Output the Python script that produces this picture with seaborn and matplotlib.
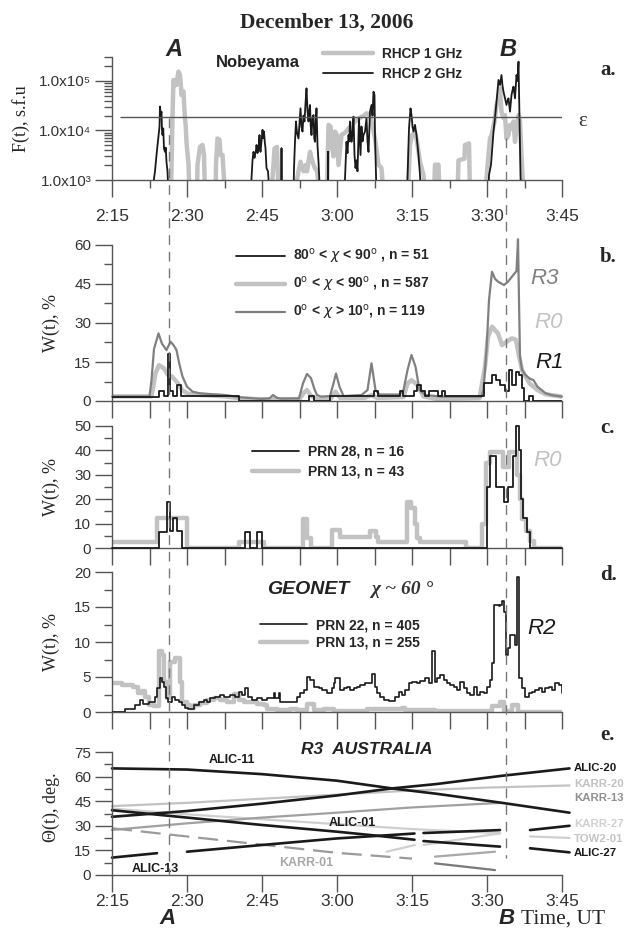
import numpy as np
import pandas as pd
import matplotlib
matplotlib.use("Agg")
import matplotlib.pyplot as plt
import matplotlib.ticker as mticker
from matplotlib.lines import Line2D
import seaborn as sns

# ---------------- data (time in minutes of the day, 135 = 2:15 UT) ----------------
# panel a: Nobeyama flux, s.f.u (500 = below the axis, gap between bursts)
t_1ghz = [135, 146.8, 146.9, 147.1, 147.3, 147.5, 147.7, 147.9, 148.1, 148.3, 148.5, 148.6, 148.75, 148.9,
          149.1, 149.3, 149.45, 149.6, 149.75, 149.9, 150.1, 150.3, 150.5,
          152.0, 152.1, 152.6, 153.1, 153.4, 153.6,
          155.7, 155.8, 156.1, 156.5, 156.7, 157.1, 157.6,
          167.0, 167.1, 167.5, 168.0, 168.3,
          171.9, 172.0, 172.3, 172.7, 173.0, 173.3, 173.7, 174.0, 174.6, 175.0, 175.5, 176.0, 176.6,
          178.0, 178.1, 178.3, 178.7, 179.0, 179.3, 179.6, 180.0, 180.3, 180.9, 181.6, 182.3, 183.0, 183.6,
          184.3, 184.9, 185.4, 185.9, 186.6, 187.1, 187.6, 188.3, 188.9, 189.3,
          194.2, 194.3, 194.6, 195.0, 195.6, 196.0, 196.6, 197.3, 197.6,
          199.4, 199.6, 200.3, 200.5,
          204.1, 204.3, 205.5, 205.6, 206.4, 206.6,
          209.8, 209.9, 210.3, 210.6, 210.9, 211.5, 211.9, 212.3, 212.6, 212.9, 213.3, 213.6, 213.9, 214.3,
          214.6, 214.9, 215.3, 215.6, 215.9, 216.3, 216.6, 216.9, 217.3, 225]
f_1ghz = [500, 500, 1700, 20000, 105000, 80000, 100000, 83000, 120000, 155000, 140000, 132000, 90000, 52000,
          60000, 62000, 30000, 17800, 12000, 5900, 3500, 2040, 500,
          500, 2040, 4660, 5100, 3200, 500,
          500, 2040, 6900, 6500, 3200, 3200, 500,
          500, 1080, 4340, 4660, 500,
          500, 1000, 1500, 2340, 1800, 1500, 2000, 1500, 3700, 2500, 1800, 1500, 500,
          500, 1740, 13000, 12000, 5000, 3000, 9500, 8000, 2000, 8100, 9000, 11000, 13000, 15200,
          17000, 19000, 20000, 22300, 20500, 12000, 6900, 2040, 1740, 500,
          500, 1000, 5000, 8000, 9500, 6000, 2340, 1260, 500,
          500, 2040, 2040, 500,
          500, 2500, 2700, 5100, 5500, 500,
          500, 1080, 3200, 6900, 8100, 15200, 32800, 44600, 71000, 24000, 17800, 20500, 6900, 8100,
          13000, 11000, 15200, 5900, 11000, 20500, 15200, 3200, 500, 500]

t_2ghz = [135, 143.2, 143.3, 143.6, 143.9, 144.1, 144.3, 144.5, 144.6, 144.75, 144.9, 145.0, 145.1, 145.25,
          145.4, 145.6, 145.75, 145.9, 146.1, 146.3,
          162.8, 162.9, 163.1, 163.3, 163.5, 163.6, 163.8, 163.9, 164.1, 164.3, 164.5, 164.6, 164.7, 164.9,
          165.1, 165.25, 165.4, 165.55, 165.7, 165.9, 166.2, 166.5,
          168.9, 168.9, 168.9, 168.9,
          171.3, 171.4, 171.6, 171.8, 172.0, 172.3, 172.5, 172.7, 172.9, 173.1, 173.3, 173.5, 173.7, 173.9,
          174.1, 174.3, 174.45, 174.6, 174.75, 174.9, 175.1, 175.3, 175.45, 175.6, 175.75, 175.9, 176.1,
          176.3, 176.6,
          178.2, 178.2, 178.2, 178.2,
          181.5, 181.6, 181.9, 182.1, 182.3, 182.45, 182.6, 182.9, 183.1, 183.3, 183.5, 183.7, 183.9, 184.1,
          184.4, 184.7, 184.9, 185.1, 185.3, 185.6, 185.9, 186.1, 186.3, 186.6, 186.9, 187.1, 187.3, 187.5,
          187.6, 187.8, 187.9,
          194.0, 194.1, 194.4, 194.7, 194.9, 195.1, 195.3, 195.6, 195.9, 196.1, 196.3, 196.6, 196.8,
          210.3, 210.4, 210.8, 211.3, 211.6, 211.9, 212.1, 212.3, 212.6, 212.9, 213.1, 213.3, 213.6, 213.9,
          214.1, 214.3, 214.6, 214.9, 215.1, 215.3, 215.6, 215.9, 216.1, 216.3, 216.5, 216.7, 216.8, 225]
f_2ghz = [500, 500, 900, 1500, 3200, 5000, 8100, 12000, 30500, 20000, 24000, 10000, 8100, 11000,
          4300, 3700, 4500, 2300, 1500, 500,
          500, 1080, 2500, 3700, 2800, 3200, 4000, 5100, 3500, 4340, 8100, 4500, 3700, 6000,
          10300, 7000, 9500, 6000, 4340, 1740, 1500, 500,
          500, 1740, 4340, 500,
          500, 1740, 6000, 15200, 9000, 6900, 14000, 28000, 12000, 9500, 20000, 15200, 35000, 71000,
          25000, 15200, 25000, 32800, 12000, 8100, 18000, 20500, 7000, 5900, 15000, 28000, 5000,
          2340, 500,
          500, 1740, 3700, 500,
          500, 1080, 5900, 3500, 8100, 6000, 15200, 5900, 9000, 19000, 3200, 1740, 2500, 1500,
          17800, 3200, 12000, 6000, 8100, 9500, 17800, 6000, 3700, 24000, 32800, 20000, 60700, 52000,
          8100, 1260, 500,
          500, 1080, 11000, 28000, 20500, 12000, 9500, 13000, 8100, 5000, 3200, 1260, 500,
          500, 1260, 2040, 9500, 17800, 38000, 60000, 105000, 83000, 132000, 80000, 60700, 44600, 32800,
          40000, 44600, 24000, 52000, 65000, 77000, 44600, 132000, 100000, 245000, 17800, 1260, 500, 500]
eps_level = 19000

# panel b: W(t), %
t_r3 = [135, 142.5, 142.9, 143.4, 144.3, 145.0, 145.9, 146.7, 147.3, 147.9, 148.5, 149.1, 150.0, 151.1,
        152.5, 154.4, 157.6, 160.8, 164.8, 166.5, 167.2, 168.0, 168.8, 172.4, 173.2, 174.0, 174.8, 175.5,
        176.0, 176.8, 178.6, 179.3, 179.8, 180.5, 181.3, 184.9, 186.1, 186.9, 187.7, 188.5, 192.5, 193.3,
        194.1, 194.9, 195.7, 196.5, 197.7, 200.9, 208.9, 209.3, 209.9, 210.4, 211.0, 211.6, 212.2, 213.4,
        214.2, 215.4, 215.9, 216.2, 216.4, 216.6, 217.0, 217.7, 218.5, 219.3, 220.1, 221.7, 223.0, 225]
w_r3 = [1.7, 1.7, 8, 20, 26, 22, 19.6, 22.8, 21.5, 19.6, 14, 9.4, 5.5, 3.6,
        3, 2.7, 2.3, 1.4, 0.8, 1, 2.3, 1.2, 0.9, 1, 6.8, 10.4, 8.8, 4.5,
        2.3, 1.7, 1.9, 6.8, 10.6, 5.5, 1.9, 2.3, 4.2, 14.5, 4.2, 2.5, 2.5, 4.2,
        11.9, 17.7, 13.2, 4.2, 2.3, 1.7, 1.7, 4.2, 19.6, 38.8, 49.7, 47, 45.9, 44.6,
        45.9, 48.8, 50, 62.2, 38.6, 17, 12, 10, 8.7, 8, 5.5, 3, 2.2, 1.7]

t_r0 = [135, 142.9, 143.7, 144.4, 145.4, 146.2, 147.0, 148.2, 149.0, 150.3, 152.8, 157.6, 160.8, 164.0,
        172.5, 173.3, 174.0, 174.8, 176.0, 178.8, 179.7, 180.6, 185.5, 186.9, 188.0, 193.3, 194.1, 194.9,
        196.1, 197.3, 200.0, 208.5, 209.6, 210.2, 211.0, 212.2, 213.0, 213.9, 215.0, 215.8, 216.3, 217.0,
        217.7, 218.5, 220.1, 221.7, 225]
w_r0 = [1.8, 1.8, 10.6, 13.8, 12.5, 10, 9.4, 6.8, 4.2, 2.7, 2.3, 1.8, 1, 0.7,
        0.7, 3, 4.2, 2, 0.8, 1, 3.6, 1.2, 1.2, 2.3, 1.2, 1.5, 6.8, 8,
        6.2, 1.7, 0.8, 1.1, 13.2, 24.7, 28.6, 26, 21.5, 22.8, 24.1, 23.5, 18.3, 11.9,
        9.4, 6.8, 4.2, 2.6, 1.7]

t_r1 = [135, 144.4, 145.4, 146.1, 146.6, 147.1, 147.9, 148.7, 160.4, 174.4, 175.3, 178.5, 187.3, 188.1,
        192.5, 193.1, 195.3, 195.9, 196.8, 197.6, 198.4, 200.2, 201.0, 201.5, 209.4, 211.0, 211.8, 212.6,
        213.6, 214.3, 214.9, 215.7, 216.3, 216.9, 217.4, 218.4, 219.1, 225]
w_r1 = [1.5, 4, 2, 18, 4, 2, 6, 2, 0, 2, 0, 2, 4, 2,
        4, 2, 4, 6, 4, 2, 4, 2, 4, 2, 7, 10, 8, 6,
        4, 12, 6, 11, 10, 5, 0, 2, 0, 0]

# panel c: W(t), %
t_c13 = [135, 143.9, 150.0, 160.4, 165.3, 173.2, 174.0, 174.8, 178.9, 180.5, 186.5, 187.7, 188.2, 194.0,
         194.7, 195.6, 196.0, 196.5, 205.8, 209.0, 209.8, 210.6, 213.2, 214.4, 215.9, 216.5, 217.0, 217.7,
         218.6, 219.3, 225]
w_c13 = [2.6, 12.2, 0, 2.6, 0, 12, 4, 0, 7.4, 4.5, 7, 4.5, 2.6, 19,
         16.5, 10, 4, 2.6, 0, 10, 35, 39.5, 33, 39.5, 30, 20, 12, 7,
         3, 0, 0]
t_c28 = [135, 144.4, 146.0, 146.5, 147.1, 147.9, 148.9, 161.6, 162.6, 164.0, 165.0, 209.9, 210.5, 211.8,
         213.4, 214.2, 215.2, 215.8, 216.3, 216.7, 217.2, 217.9, 218.6, 225]
w_c28 = [0, 6.4, 18.9, 7, 12.5, 7, 0, 6.4, 0, 6.4, 0, 25, 37.8, 25,
         19, 25, 37.8, 50, 40, 20, 12.5, 6.4, 0, 0]

# panel d: GEONET W(t), %
t_d22 = [135, 137.6, 139.6, 140.6, 141.1, 142.3, 143.6, 143.9, 144.5, 144.9, 145.3, 145.8, 146.1, 146.9,
         147.6, 148.3, 148.9, 149.6, 150.2, 151.3, 152.3, 153.3, 153.9, 154.6, 155.6, 156.6, 157.3, 158.6,
         159.6, 160.3, 160.9, 161.6, 162.1, 162.9, 163.9, 164.9, 165.9, 167.3, 167.6, 168.3, 168.6, 169.9,
         171.3, 171.9, 172.6, 173.3, 173.9, 174.6, 175.3, 176.3, 176.9, 177.9, 178.9, 179.3, 179.6, 180.6,
         181.3, 181.9, 182.6, 183.3, 183.9, 184.6, 185.6, 186.9, 187.6, 187.9, 188.6, 189.3, 190.3, 191.6,
         192.3, 192.9, 193.6, 194.3, 194.9, 195.9, 196.6, 197.6, 198.3, 198.9, 199.5, 199.9, 200.6, 201.3,
         201.9, 202.6, 203.3, 203.9, 204.6, 205.3, 205.9, 206.6, 207.3, 207.9, 208.6, 209.3, 209.9, 210.6,
         210.9, 211.3, 212.3, 212.6, 212.9, 213.4, 213.7, 214.1, 214.6, 215.0, 215.5, 215.9, 216.4, 216.9,
         217.6, 218.3, 218.9, 219.6, 220.3, 220.9, 221.6, 222.3, 222.9, 223.6, 224.3, 224.9, 225]
w_d22 = [0, 0.4, 1.0, 1.7, 1.2, 1.5, 2.2, 3.5, 4.8, 4.3, 3.6, 2.0, 1.5, 2.2,
         1.7, 1.5, 1.0, 0.6, 0.4, 1.0, 1.5, 1.7, 1.5, 2.0, 2.2, 2.4, 2.2, 2.5,
         2.2, 2.8, 2.4, 3.4, 2.2, 1.7, 2.0, 1.7, 2.0, 2.7, 2.0, 2.7, 1.5, 1.5,
         1.5, 2.2, 2.7, 3.1, 5.0, 4.6, 3.6, 3.4, 3.1, 2.7, 3.4, 4.1, 4.8, 3.1,
         3.4, 3.6, 3.1, 3.4, 3.6, 3.8, 4.1, 5.5, 3.6, 2.7, 2.2, 1.7, 1.6, 2.2,
         2.9, 2.4, 3.1, 4.1, 4.3, 4.1, 4.4, 4.8, 4.1, 8.7, 4.3, 4.8, 5.3, 4.6,
         4.1, 3.8, 3.6, 3.1, 4.3, 3.4, 2.7, 2.4, 3.6, 2.4, 2.9, 2.7, 3.6, 4.6,
         7.0, 15.3, 15.1, 15.3, 15.8, 14.3, 8.1, 9.1, 11.0, 11.0, 9.6, 19.3, 4.8, 3.4,
         2.2, 2.7, 2.9, 3.1, 3.4, 2.9, 3.4, 3.6, 3.1, 4.1, 3.8, 2.7, 2.7]
t_d13 = [135, 136.9, 139.2, 140.2, 140.9, 141.6, 142.3, 143.3, 144.3, 144.9, 145.4, 145.9, 146.6, 147.6,
         148.6, 149.0, 149.9, 150.6, 151.3, 152.6, 153.9, 155.3, 156.6, 157.9, 159.3, 160.3, 161.3, 163.9,
         165.3, 165.9, 167.9, 170.6, 171.9, 173.9, 175.3, 177.3, 179.3, 186.0, 192.9, 193.6, 199.6, 210.9,
         212.6, 213.3, 214.9, 216.2, 225]
w_d13 = [4.2, 3.9, 3.6, 2.7, 3.0, 2.2, 1.0, 0.8, 8.7, 8.1, 4.3, 2.0, 7.2, 7.7,
         4.3, 1.5, 1.0, 0.6, 1.0, 1.3, 1.7, 2.0, 1.7, 1.5, 2.6, 1.7, 1.5, 1.2,
         1.0, 0.5, 0.3, 0.4, 0.3, 1.1, 0.3, 0.5, 0.2, 0.4, 0.6, 0.3, 0.2, 0.8,
         1.4, 0.2, 1.0, 0.0, 0.0]

# panel e: elevation of the satellites, deg (nan = gap in the record)
t_alic11 = [135, 150, 165, 180, 191, 200, 213, 226.5]
e_alic11 = [65, 64.3, 61.5, 57.5, 52.8, 49.5, 44, 38]
t_alic20 = [135, 150, 165, 180, 191, 200, 213, 226.5]
e_alic20 = [35.5, 39, 43.5, 48.5, 52.8, 55.5, 60.5, 65]
t_karr20 = [135, 150, 165, 180, 195, 210, 226.5]
e_karr20 = [42, 44, 46.5, 49, 51.5, 53.3, 54.6]
t_karr13 = [135, 150, 165, 180, 195, 213, 216, 226.5]
e_karr13 = [27.5, 31.5, 35, 38, 41.2, 44, np.nan, 45.6]
t_karr27 = [135, 150, 165, 180, 195, 212.6, 215.6, 218.6, 226.5]
e_karr27 = [40.5, 37, 34, 31, 28, 25.5, np.nan, 23.5, 22.6]
t_alic01 = [135, 144, 147, 150, 165, 180, 195.5, 196.4, 197.3, 212.6, 215.6, 218.6, 226.5]
e_alic01 = [10.6, 13.3, np.nan, 14.2, 18.3, 22.3, 25.3, np.nan, 25.6, 27.4, np.nan, 27.4, 30]
t_alic27 = [135, 150, 165, 180, 186.6, 195.5, 196.4, 197.3, 212.6, 215.6, 218.6, 226.5]
e_alic27 = [39.5, 35, 30.5, 26.4, 24.4, 21.5, np.nan, 20.7, 17.3, np.nan, 16.3, 13.8]
t_tow201 = [189.9, 195.6, 196.4, 197.3, 212.6]
e_tow201 = [14.2, 18.3, np.nan, 18.3, 25.4]
t_karr01 = [135, 150, 165, 180, 195]
e_karr01 = [28.5, 23.5, 18.5, 13.5, 10]
t_seg_a = [199.6, 211.6]
e_seg_a = [11.2, 14.2]
t_seg_b = [199.6, 211.6]
e_seg_b = [7.1, 3.0]

t_A, t_B = 146.3, 213.7

# ---------------- style ----------------
sns.set_style("ticks")
plt.rcParams['font.family'] = ['Liberation Sans', 'DejaVu Sans']
SERIF = ['Liberation Serif', 'DejaVu Serif']
NARROW = ['Liberation Sans Narrow', 'Liberation Sans', 'DejaVu Sans']
AX = '#555555'
LIGHT = '#c2c2c2'
MID = '#808080'
DARK = '#1a1a1a'

W, H = 629, 931
fig = plt.figure(figsize=(W / 100, H / 100), dpi=100)


def box(top, bottom):
    return [112 / W, 1 - bottom / H, 450 / W, (bottom - top) / H]


def hm(x, pos):
    x = int(round(x))
    return f"{x // 60}:{x % 60:02d}"


def draw(ax, t, v, **kw):
    # split on nan so gaps stay gaps, then hand every piece to seaborn
    df = pd.DataFrame({'t': t, 'v': v})
    gid = df['v'].isna().cumsum()
    ok = df['v'].notna()
    for _, seg in df[ok].groupby(gid[ok]):
        sns.lineplot(data=seg, x='t', y='v', ax=ax, estimator=None, sort=False, **kw)
        kw.pop('label', None)


def style_axis(ax, ymajor, yminor, xlabels, xpad=4):
    ax.set_xlim(135, 225)
    for s in ['top', 'right']:
        ax.spines[s].set_visible(False)
    for s in ['left', 'bottom']:
        ax.spines[s].set_color(AX)
        ax.spines[s].set_linewidth(1.0)
    ax.set_xlabel('')
    ax.set_ylabel('')
    if ymajor is not None:
        ax.yaxis.set_major_locator(mticker.MultipleLocator(ymajor))
        ax.yaxis.set_minor_locator(mticker.MultipleLocator(yminor))
    ax.tick_params(axis='y', which='major', length=12, width=1, color=AX, labelsize=11,
                   labelcolor='#333333', pad=3)
    ax.tick_params(axis='y', which='minor', length=6, width=1, color=AX)
    for lab in ax.get_yticklabels():
        lab.set_fontfamily(NARROW)
    if xlabels:
        ax.xaxis.set_major_locator(mticker.MultipleLocator(15))
        ax.xaxis.set_major_formatter(mticker.FuncFormatter(hm))
        ax.tick_params(axis='x', which='major', length=12, width=1, color=AX, labelsize=12.5,
                       labelcolor='#333333', pad=xpad)
    else:
        ax.xaxis.set_major_locator(mticker.MultipleLocator(7.5))
        ax.xaxis.set_major_formatter(mticker.NullFormatter())
        ax.tick_params(axis='x', which='major', length=12, width=1, color=AX)


def legend(ax, x, y, fs, hl, sp, handles=None):
    kw = dict(loc='upper left', bbox_to_anchor=(x / W, 1 - y / H), bbox_transform=fig.transFigure,
              frameon=False, borderpad=0, borderaxespad=0, handlelength=hl, handletextpad=0.6,
              labelspacing=sp, prop={'size': fs, 'weight': 'bold'})
    if handles is not None:
        kw['handles'] = handles
    ax.legend(**kw)


# ---------------- panel a ----------------
ax_a = fig.add_axes(box(57, 180))
draw(ax_a, t_1ghz, f_1ghz, color=LIGHT, lw=3.2, label='RHCP 1 GHz', zorder=2)
draw(ax_a, t_2ghz, f_2ghz, color=DARK, lw=1.3, label='RHCP 2 GHz', zorder=3)
ax_a.hlines(eps_level, 136.5, 225, color=AX, lw=1.0, zorder=4)
ax_a.set_yscale('log')
ax_a.set_ylim(1e3, 3.05e5)
style_axis(ax_a, None, None, True, xpad=9)
ax_a.xaxis.set_minor_locator(mticker.MultipleLocator(7.5))
ax_a.tick_params(axis='x', which='minor', length=6, width=1, color=AX)
ax_a.set_yticks([1e3, 1e4, 1e5])
ax_a.set_yticklabels(['1.0x10³', '1.0x10⁴', '1.0x10⁵'], fontfamily=NARROW)
ax_a.yaxis.set_minor_locator(mticker.LogLocator(subs=range(2, 10)))
ax_a.yaxis.set_minor_formatter(mticker.NullFormatter())
ax_a.set_ylabel('F(t), s.f.u', fontfamily=SERIF, fontsize=13)
ax_a.yaxis.set_label_coords(-0.182, 0.5)
legend(ax_a, 323, 47, 9.8, 3.7, 0.45)
ax_a.text(258 / W, 1 - 62 / H, 'Nobeyama', transform=fig.transFigure, ha='center', va='center',
          fontsize=12, fontweight='bold', color='#222222')
ax_a.text(578 / W, 1 - 122 / H, 'ε', transform=fig.transFigure, ha='left', va='center',
          fontsize=15, fontfamily=SERIF, color='#333333')

# ---------------- panel b ----------------
ax_b = fig.add_axes(box(245, 401))
draw(ax_b, t_r0, w_r0, color=LIGHT, lw=3.2, label='0$^{\\rm o}$ < $\\chi$ < 90$^{\\rm o}$ , n = 587', zorder=2)
draw(ax_b, t_r3, w_r3, color=MID, lw=1.6, label='0$^{\\rm o}$ < $\\chi$ > 10$^{\\rm o}$, n = 119', zorder=3,
     clip_on=False)
draw(ax_b, t_r1, w_r1, color=DARK, lw=1.3, label='80$^{\\rm o}$ < $\\chi$ < 90$^{\\rm o}$ , n = 51', zorder=4,
     drawstyle='steps-post')
ax_b.set_ylim(0, 60)
style_axis(ax_b, 15, 7.5, False)
ax_b.set_ylabel('W(t), %', fontfamily=SERIF, fontsize=13)
ax_b.yaxis.set_label_coords(-0.116, 0.5)
hb = ax_b.get_legend_handles_labels()[0]
legend(ax_b, 236, 247, 10, 3.5, 0.65, handles=[hb[2], hb[0], hb[1]])
ax_b.text(218.6, 47, 'R3', fontsize=16, fontstyle='italic', color=MID, ha='left', va='center')
ax_b.text(219.4, 30, 'R0', fontsize=16, fontstyle='italic', color=LIGHT, ha='left', va='center')
ax_b.text(219.6, 15, 'R1', fontsize=16, fontstyle='italic', color=DARK, ha='left', va='center')

# ---------------- panel c ----------------
ax_c = fig.add_axes(box(426, 548))
draw(ax_c, t_c28, w_c28, color=DARK, lw=1.3, label='PRN 28, n = 16', zorder=4, drawstyle='steps-post',
     clip_on=False)
draw(ax_c, t_c13, w_c13, color=LIGHT, lw=3.2, label='PRN 13, n = 43', zorder=2, drawstyle='steps-post')
ax_c.set_ylim(0, 50)
style_axis(ax_c, 10, 5, False)
ax_c.set_ylabel('W(t), %', fontfamily=SERIF, fontsize=13)
ax_c.yaxis.set_label_coords(-0.116, 0.5)
legend(ax_c, 252, 445, 10, 3.4, 0.4)
ax_c.text(219.2, 36, 'R0', fontsize=16, fontstyle='italic', color=LIGHT, ha='left', va='center')

# ---------------- panel d ----------------
ax_d = fig.add_axes(box(572, 712))
draw(ax_d, t_d22, w_d22, color=DARK, lw=1.2, label='PRN 22, n = 405', zorder=4, drawstyle='steps-post')
draw(ax_d, t_d13, w_d13, color=LIGHT, lw=3.2, label='PRN 13, n = 255', zorder=2, drawstyle='steps-post')
ax_d.set_ylim(0, 20)
style_axis(ax_d, 5, 2.5, False)
ax_d.set_ylabel('W(t), %', fontfamily=SERIF, fontsize=13)
ax_d.yaxis.set_label_coords(-0.116, 0.5)
legend(ax_d, 260, 618, 10, 3.4, 0.25)
ax_d.text(267 / W, 1 - 590 / H, 'GEONET', transform=fig.transFigure, ha='left', va='center',
          fontsize=14, fontweight='bold', fontstyle='italic', color='#222222')
ax_d.text(371 / W, 1 - 590 / H, 'χ ~ 60 °', transform=fig.transFigure, ha='left', va='center',
          fontsize=14, fontweight='bold', fontstyle='italic', fontfamily=SERIF, color='#333333')
ax_d.text(218.0, 12, 'R2', fontsize=16, fontstyle='italic', color=DARK, ha='left', va='center')

# ---------------- panel e ----------------
ax_e = fig.add_axes(box(752, 875))
sat_lines = [
    (t_karr20, e_karr20, LIGHT, 1.6, '-'),
    (t_karr27, e_karr27, '#cfcfcf', 1.6, '-'),
    (t_tow201, e_tow201, '#cfcfcf', 1.6, '-'),
    (t_karr13, e_karr13, '#a0a0a0', 1.6, '-'),
    (t_karr01, e_karr01, '#9a9a9a', 1.6, (0, (9, 4))),
    (t_seg_a, e_seg_a, '#a8a8a8', 1.6, '-'),
    (t_seg_b, e_seg_b, '#7a7a7a', 1.6, '-'),
    (t_alic01, e_alic01, DARK, 1.9, '-'),
    (t_alic27, e_alic27, DARK, 1.9, '-'),
    (t_alic11, e_alic11, DARK, 1.9, '-'),
    (t_alic20, e_alic20, DARK, 1.9, '-'),
]
for tt, ee, col, lw, ls in sat_lines:
    draw(ax_e, tt, ee, color=col, lw=lw, linestyle=ls, clip_on=False)
ax_e.set_ylim(0, 75)
style_axis(ax_e, 15, 7.5, True, xpad=2)
ax_e.set_ylabel('Θ(t), deg.', fontfamily=SERIF, fontsize=13)
ax_e.yaxis.set_label_coords(-0.115, 0.55)
ax_e.text(367 / W, 1 - 750 / H, 'R3  AUSTRALIA', transform=fig.transFigure, ha='center', va='center',
          fontsize=12.5, fontweight='bold', fontstyle='italic', color='#222222')
inner = [('ALIC-11', 159, 70, DARK), ('ALIC-01', 183, 31.7, DARK), ('ALIC-13', 143.6, 3.5, DARK),
         ('KARR-01', 173.8, 7.3, '#a8a8a8')]
for name, tx, ty, col in inner:
    ax_e.text(tx, ty, name, fontsize=9, fontweight='bold', color=col, ha='center', va='center')
right = [('ALIC-20', 65.2, DARK), ('KARR-20', 55.5, LIGHT), ('KARR-13', 47, '#909090'),
         ('KARR-27', 31, '#d0d0d0'), ('TOW2-01', 22, '#c4c4c4'), ('ALIC-27', 13.4, DARK)]
for name, ty, col in right:
    ax_e.text(227.4, ty, name, fontsize=8.2, fontweight='bold', color=col, ha='left', va='center',
              clip_on=False)

# ---------------- common texts and event lines ----------------
fig.text(327 / W, 1 - 23 / H, 'December 13, 2006', ha='center', va='center', fontsize=15.5,
         fontweight='bold', fontfamily=SERIF)
for lab, yy in [('a.', 70), ('b.', 257), ('c.', 428), ('d.', 575), ('e.', 735)]:
    fig.text(600 / W, 1 - yy / H, lab, ha='left', va='center', fontsize=15, fontweight='bold',
             fontfamily=SERIF)
fig.text(174 / W, 1 - 50 / H, 'A', ha='center', va='center', fontsize=17, fontweight='bold', fontstyle='italic')
fig.text(508 / W, 1 - 50 / H, 'B', ha='center', va='center', fontsize=17, fontweight='bold', fontstyle='italic')
fig.text(168 / W, 1 - 918 / H, 'A', ha='center', va='center', fontsize=16, fontweight='bold', fontstyle='italic')
fig.text(507 / W, 1 - 918 / H, 'B', ha='center', va='center', fontsize=16, fontweight='bold', fontstyle='italic')
fig.text(521 / W, 1 - 919 / H, 'Time, UT', ha='left', va='center', fontsize=15.5, fontfamily=SERIF)

inv = fig.transFigure.inverted()
for tv, y0, y1 in [(t_A, 118, 875), (t_B, 138, 858)]:
    xf = inv.transform(ax_e.transData.transform((tv, 0)))[0]
    fig.add_artist(Line2D([xf, xf], [1 - y0 / H, 1 - y1 / H], transform=fig.transFigure,
                          color='#777777', lw=1.0, linestyle=(0, (7, 5)), zorder=1))

fig.savefig('out.png', dpi=100)
